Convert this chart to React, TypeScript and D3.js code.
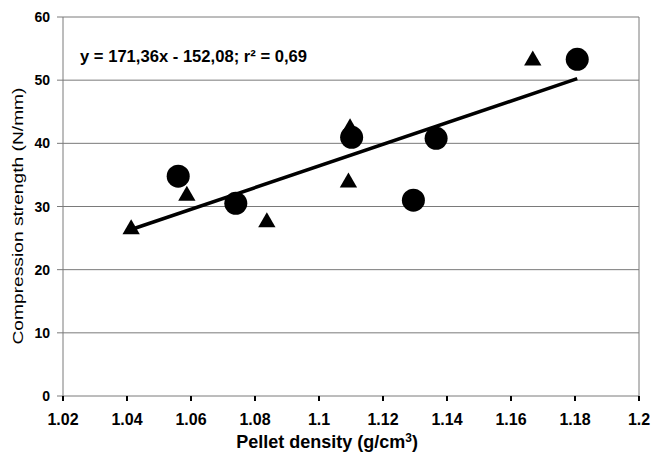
import React from "react";
import * as d3 from "d3";

// circles series
const circleX = [1.056, 1.074, 1.1102, 1.1295, 1.1366, 1.1807];
const circleY = [34.8, 30.5, 40.95, 31.0, 40.8, 53.3];
// triangles series
const triX = [1.0413, 1.0587, 1.0837, 1.1092, 1.1097, 1.1668];
const triY = [26.4, 31.7, 27.5, 33.8, 42.4, 53.1];

const slope = 171.36;
const intercept = -152.08;
const equation = "y = 171,36x - 152,08; r\u00B2 = 0,69";

const xTicks = [1.02, 1.04, 1.06, 1.08, 1.1, 1.12, 1.14, 1.16, 1.18, 1.2];
const yTicks = [0, 10, 20, 30, 40, 50, 60];

const W = 651,
  H = 458;
const margin = { top: 17, right: 12, bottom: 62, left: 63 };
const font = "'Liberation Sans', Arial, sans-serif";

const App = () => {
  const x = d3
    .scaleLinear()
    .domain([1.02, 1.2])
    .range([margin.left, W - margin.right]);
  const y = d3
    .scaleLinear()
    .domain([0, 60])
    .range([H - margin.bottom, margin.top]);

  const allX = circleX.concat(triX);
  const x0 = d3.min(allX) as number;
  const x1 = d3.max(allX) as number;
  const fitLine = d3
    .line<number>()
    .x((d) => x(d))
    .y((d) => y(slope * d + intercept));

  const tri = d3.symbol().type(d3.symbolTriangle).size(130);

  return (
    <svg
      width={W}
      height={H}
      style={{ position: "absolute", left: 0, top: 0, background: "#fff" }}
    >
      <rect width={W} height={H} fill="#fff" />
      {/* gridlines */}
      {yTicks.slice(1).map((t) => (
        <line
          key={t}
          x1={x(1.02)}
          x2={x(1.2)}
          y1={y(t)}
          y2={y(t)}
          stroke="#7a7a7a"
          strokeWidth={1}
        />
      ))}
      {/* frame */}
      <line x1={x(1.2)} x2={x(1.2)} y1={y(60)} y2={y(0)} stroke="#7a7a7a" />
      <line x1={x(1.02)} x2={x(1.02)} y1={y(60)} y2={y(0)} stroke="#7a7a7a" />
      <line x1={x(1.02)} x2={x(1.2)} y1={y(0)} y2={y(0)} stroke="#7a7a7a" />
      {/* y ticks */}
      {yTicks.map((t) => (
        <g key={t}>
          <line
            x1={x(1.02) - 6}
            x2={x(1.02)}
            y1={y(t)}
            y2={y(t)}
            stroke="#7a7a7a"
          />
          <text
            x={50}
            y={y(t)}
            dy="0.36em"
            textAnchor="end"
            fontFamily={font}
            fontWeight="bold"
            fontSize={14}
          >
            {t}
          </text>
        </g>
      ))}
      {/* x ticks */}
      {xTicks.map((t) => (
        <g key={t}>
          <line
            x1={x(t)}
            x2={x(t)}
            y1={y(0)}
            y2={y(0) + 5}
            stroke="#000"
            strokeWidth={2}
          />
          <text
            x={x(t)}
            y={425}
            textAnchor="middle"
            fontFamily={font}
            fontWeight="bold"
            fontSize={16}
          >
            {t}
          </text>
        </g>
      ))}
      {/* markers */}
      {circleX.map((cx, i) => (
        <circle key={"c" + i} cx={x(cx)} cy={y(circleY[i])} r={11.5} fill="#000" />
      ))}
      {triX.map((tx, i) => (
        <path
          key={"t" + i}
          d={tri() as string}
          transform={`translate(${x(tx)},${y(triY[i])})`}
          fill="#000"
        />
      ))}
      {/* fit */}
      <path
        d={fitLine([x0, x1]) as string}
        fill="none"
        stroke="#000"
        strokeWidth={3.5}
      />
      <text
        x={80}
        y={62}
        fontFamily={font}
        fontWeight="bold"
        fontSize={16}
        textLength={227}
        lengthAdjust="spacingAndGlyphs"
      >
        {equation}
      </text>
      {/* axis titles */}
      <text
        x={327}
        y={448}
        textAnchor="middle"
        fontFamily={font}
        fontWeight="bold"
        fontSize={18}
      >
        Pellet density (g/cm<tspan fontSize={12} dy={-6}>3</tspan>
        <tspan dy={6}>)</tspan>
      </text>
      <text
        transform="translate(23,216) rotate(-90)"
        textAnchor="middle"
        fontFamily={font}
        fontSize={15}
        textLength={257}
        lengthAdjust="spacingAndGlyphs"
      >
        Compression strength (N/mm)
      </text>
    </svg>
  );
};

export default App;
